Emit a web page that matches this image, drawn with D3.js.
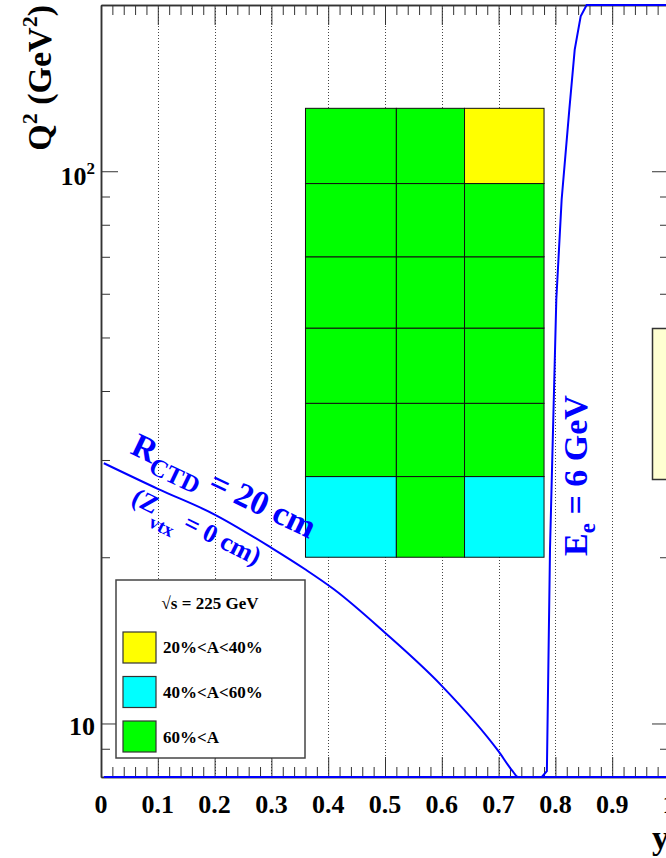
<!DOCTYPE html>
<html>
<head>
<meta charset="utf-8">
<script src="https://cdn.jsdelivr.net/npm/d3@7"></script>
<style>
  body { margin: 0; background: #fff; }
  svg { display: block; font-family: "Liberation Serif", "Times New Roman", serif; font-weight: bold; }
</style>
</head>
<body>
<script>
// axis ticks
var xMajor = [0, 0.1, 0.2, 0.3, 0.4, 0.5, 0.6, 0.7, 0.8, 0.9, 1];
var xLabels = ["0", "0.1", "0.2", "0.3", "0.4", "0.5", "0.6", "0.7", "0.8", "0.9", "1"];
var yMajor = [10, 100];
var yMinor = [9, 20, 30, 40, 50, 60, 70, 80, 90, 200];

// acceptance bins (y and Q2 edges), rows from low Q2 to high Q2
var xEdges = [0.36, 0.52, 0.64, 0.78];
var q2Edges = [20, 28, 38, 52, 70, 95, 130];
var acceptance = [
  ["mid", "high", "mid"],
  ["high", "high", "high"],
  ["high", "high", "high"],
  ["high", "high", "high"],
  ["high", "high", "high"],
  ["high", "high", "low"]
];

// legend
var legendHeader = "\u221As = 225 GeV";
var legendKeys = ["low", "mid", "high"];
var legendLabels = ["20%<A<40%", "40%<A<60%", "60%<A"];

// limit curves (y, Q2)
var rctdY = [0.005, 0.1, 0.2, 0.3, 0.36, 0.41, 0.5, 0.6, 0.7, 0.725, 0.734, 0.76, 1.0];
var rctdQ2 = [29.6, 26.6, 23.9, 20.8, 19.0, 17.5, 14.6, 11.7, 8.9, 8.19, 7.98, 7.5, 5.0];
var eeY = [0.005, 0.5, 0.776, 0.785, 0.7905, 0.8016, 0.811, 0.8245, 0.834, 0.8445, 0.855, 1.0];
var eeQ2 = [0.1, 4, 7.99, 8.2, 20.7, 58.6, 88.9, 129.3, 166.1, 190.8, 200.5, 1000];

var colors = {low: "#ffff00", mid: "#00ffff", high: "#00ff00"};

var width = 666, height = 858;
var svg = d3.select("body").append("svg").attr("width", width).attr("height", height);

var x = d3.scaleLinear().domain([0, 1]).range([101, 669]);
var y = d3.scaleLog().domain([8, 200]).range([777, 5]);

// grid
svg.append("g").selectAll("line")
  .data(xMajor.filter(function(v) { return v > 0; }))
  .enter().append("line")
  .attr("x1", function(d) { return Math.round(x(d)) + 0.5; })
  .attr("x2", function(d) { return Math.round(x(d)) + 0.5; })
  .attr("y1", y(200)).attr("y2", y(8))
  .attr("stroke", "#444").attr("stroke-dasharray", "1,2");

// cells
var cells = [];
acceptance.forEach(function(row, r) {
  row.forEach(function(k, c) {
    cells.push({x0: xEdges[c], x1: xEdges[c + 1], q0: q2Edges[r], q1: q2Edges[r + 1], key: k});
  });
});
svg.append("g").selectAll("rect").data(cells).enter().append("rect")
  .attr("x", function(d) { return x(d.x0); })
  .attr("y", function(d) { return y(d.q1); })
  .attr("width", function(d) { return x(d.x1) - x(d.x0); })
  .attr("height", function(d) { return y(d.q0) - y(d.q1); })
  .attr("fill", function(d) { return colors[d.key]; })
  .attr("stroke", "#111").attr("stroke-width", 1);

// axes
function styleAxis(g) {
  g.select(".domain").attr("stroke", "#333").attr("stroke-width", 1.5);
  g.selectAll(".tick line").attr("stroke", "#333");
}
var xMinor = d3.range(0, 1.0001, 0.02).filter(function(v) { return Math.abs(v * 10 - Math.round(v * 10)) > 1e-6; });
svg.append("g").attr("transform", "translate(0," + y(8) + ")")
  .call(d3.axisTop(x).tickValues(xMajor).tickSize(20).tickSizeOuter(0).tickFormat("")).call(styleAxis);
svg.append("g").attr("transform", "translate(0," + y(8) + ")")
  .call(d3.axisTop(x).tickValues(xMinor).tickSize(10).tickSizeOuter(0).tickFormat("")).call(styleAxis);
svg.append("g").attr("transform", "translate(0," + y(200) + ")")
  .call(d3.axisBottom(x).tickValues(xMajor).tickSize(20).tickSizeOuter(0).tickFormat("")).call(styleAxis);
svg.append("g").attr("transform", "translate(0," + y(200) + ")")
  .call(d3.axisBottom(x).tickValues(xMinor).tickSize(10).tickSizeOuter(0).tickFormat("")).call(styleAxis);
svg.append("g").attr("transform", "translate(" + x(0) + ",0)")
  .call(d3.axisRight(y).tickValues(yMajor).tickSize(17).tickSizeOuter(0).tickFormat("")).call(styleAxis);
svg.append("g").attr("transform", "translate(" + x(0) + ",0)")
  .call(d3.axisRight(y).tickValues(yMinor).tickSize(9).tickSizeOuter(0).tickFormat("")).call(styleAxis);
svg.append("g").attr("transform", "translate(" + x(1) + ",0)")
  .call(d3.axisLeft(y).tickValues(yMajor).tickSize(17).tickSizeOuter(0).tickFormat("")).call(styleAxis);
svg.append("g").attr("transform", "translate(" + x(1) + ",0)")
  .call(d3.axisLeft(y).tickValues(yMinor).tickSize(9).tickSizeOuter(0).tickFormat("")).call(styleAxis);

// tick labels
svg.append("g").selectAll("text").data(xMajor).enter().append("text")
  .attr("x", function(d) { return x(d); })
  .attr("y", 813)
  .attr("text-anchor", "middle")
  .attr("font-size", 26)
  .text(function(d, i) { return xLabels[i]; });

svg.append("text").attr("x", 95).attr("y", y(10) + 12)
  .attr("text-anchor", "end").attr("font-size", 26).text("10");
var t100 = svg.append("text").attr("x", 95).attr("y", y(100) + 14)
  .attr("text-anchor", "end").attr("font-size", 26);
t100.append("tspan").text("10");
t100.append("tspan").attr("dy", -11).attr("font-size", 17).text("2");

// axis titles
var yt = svg.append("text").attr("transform", "translate(51,5) rotate(-90)")
  .attr("text-anchor", "end").attr("font-size", 34);
yt.append("tspan").text("Q");
yt.append("tspan").attr("dy", -14).attr("font-size", 22).text("2");
yt.append("tspan").attr("dy", 14).text(" (GeV");
yt.append("tspan").attr("dy", -14).attr("font-size", 22).text("2");
yt.append("tspan").attr("dy", 14).text(")");

svg.append("text").attr("x", 669).attr("y", 849)
  .attr("text-anchor", "end").attr("font-size", 34).text("y");

// side pave (cut off at the right)
svg.append("rect").attr("x", 652.5).attr("y", 328.5).attr("width", 40).attr("height", 151)
  .attr("fill", "#ffffd2").attr("stroke", "#333").attr("stroke-width", 1.5);

// legend
var lg = svg.append("g");
lg.append("rect").attr("x", 116).attr("y", 580).attr("width", 189).attr("height", 178)
  .attr("fill", "#fff").attr("stroke", "#444").attr("stroke-width", 1.5);
lg.append("text").attr("x", 210).attr("y", 609).attr("text-anchor", "middle")
  .attr("font-size", 17).text(legendHeader);
var entries = lg.selectAll(".entry").data(legendKeys).enter().append("g").attr("class", "entry");
entries.append("rect")
  .attr("x", 123).attr("y", function(d, i) { return 632 + i * 44.5; })
  .attr("width", 33).attr("height", 31)
  .attr("fill", function(d) { return colors[d]; })
  .attr("stroke", "#333").attr("stroke-width", 1.2);
entries.append("text")
  .attr("x", 163).attr("y", function(d, i) { return 653 + i * 45; })
  .attr("font-size", 17)
  .text(function(d, i) { return legendLabels[i]; });

// curves
function clampQ(q) { return Math.max(8, Math.min(200, q)); }
var line = d3.line().x(function(d) { return x(d[0]); }).y(function(d) { return y(clampQ(d[1])); });
svg.append("path")
  .datum(rctdY.map(function(v, i) { return [v, rctdQ2[i]]; }))
  .attr("d", line.curve(d3.curveMonotoneX))
  .attr("fill", "none").attr("stroke", "#0000ff").attr("stroke-width", 2);
svg.append("path")
  .datum(eeY.map(function(v, i) { return [v, eeQ2[i]]; }))
  .attr("d", line.curve(d3.curveLinear))
  .attr("fill", "none").attr("stroke", "#0000ff").attr("stroke-width", 2);

// curve labels
var r1 = svg.append("text").attr("transform", "translate(129,453) rotate(25.5)")
  .attr("font-size", 34).attr("fill", "#0000ff");
r1.append("tspan").text("R");
r1.append("tspan").attr("dy", 9).attr("font-size", 25).text("CTD");
r1.append("tspan").attr("dy", -9).text(" = 20 cm");

var r2 = svg.append("text").attr("transform", "translate(130,503) rotate(26.5)")
  .attr("font-size", 26).attr("fill", "#0000ff");
r2.append("tspan").text("(Z");
r2.append("tspan").attr("dy", 13).attr("font-size", 19).text("vtx");
r2.append("tspan").attr("dy", -13).text(" = 0 cm)");

var e1 = svg.append("text").attr("transform", "translate(587,556) rotate(-90)")
  .attr("font-size", 34).attr("fill", "#0000ff");
e1.append("tspan").text("E");
e1.append("tspan").attr("dy", 8).attr("font-size", 23).text("e");
e1.append("tspan").attr("dy", -8).text(" = 6 GeV");
</script>
</body>
</html>
